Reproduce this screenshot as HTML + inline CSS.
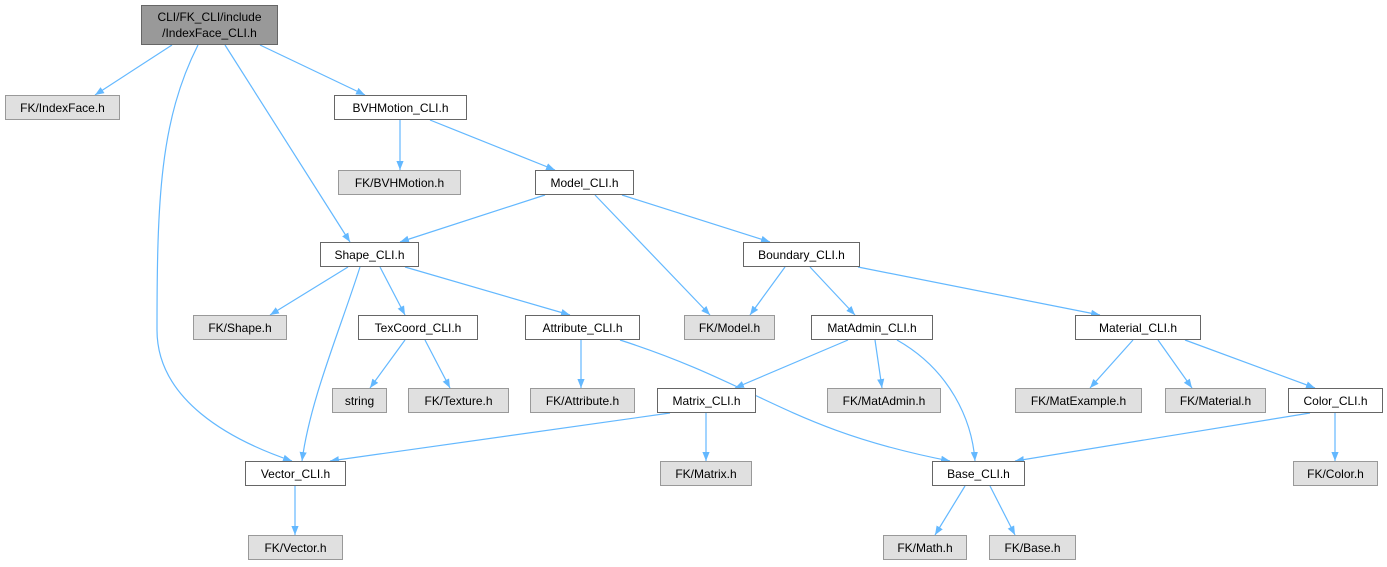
<!DOCTYPE html>
<html><head><meta charset="utf-8"><style>
html,body{margin:0;padding:0;background:#fff;width:1387px;height:567px;overflow:hidden}
svg{display:block}
text{font-family:"Liberation Sans",Arial,sans-serif;font-size:12px;fill:#000}
</style></head><body>
<svg width="1387" height="567" viewBox="0 0 1387 567" xmlns="http://www.w3.org/2000/svg">
<defs><marker id="a" viewBox="0 0 10 10" refX="10" refY="5" markerWidth="9" markerHeight="9" orient="auto" markerUnits="userSpaceOnUse"><path d="M0,1 L10,5 L0,9 z" fill="#63b8ff"/></marker></defs>
<g fill="none" stroke="#63b8ff" stroke-width="1.2" marker-end="url(#a)">
<path d="M172,45 L95,95"/>
<path d="M198,45 C160,120 157,200 157,330 C157,400 230,440 292,461"/>
<path d="M225,45 L350,242"/>
<path d="M260,45 L365,95"/>
<path d="M400,120 L400,170"/>
<path d="M430,120 L555,170"/>
<path d="M545,195 L400,242"/>
<path d="M595,195 L710,315"/>
<path d="M622,195 L770,242"/>
<path d="M348,267 L270,315"/>
<path d="M380,267 L405,315"/>
<path d="M405,267 L570,315"/>
<path d="M360,267 C340,330 310,400 302,461"/>
<path d="M785,267 L750,315"/>
<path d="M810,267 L855,315"/>
<path d="M858,267 L1100,315"/>
<path d="M405,340 L370,388"/>
<path d="M425,340 L450,388"/>
<path d="M581,340 L581,388"/>
<path d="M620,340 C760,385 790,430 950,461"/>
<path d="M848,340 L735,388"/>
<path d="M875,340 L882,388"/>
<path d="M897,340 C950,370 972,420 975,461"/>
<path d="M1133,340 L1090,388"/>
<path d="M1158,340 L1192,388"/>
<path d="M1185,340 L1315,388"/>
<path d="M670,413 L330,461"/>
<path d="M706,413 L706,461"/>
<path d="M1310,413 L1015,461"/>
<path d="M1335,413 L1335,461"/>
<path d="M295,486 L295,535"/>
<path d="M965,486 L935,535"/>
<path d="M990,486 L1015,535"/>
</g>
<g stroke-width="1">
<rect x="141.5" y="5.5" width="136" height="39" fill="#999" stroke="#666"/>
<text x="209.5" y="21" text-anchor="middle">CLI/FK_CLI/include</text>
<text x="209.5" y="37" text-anchor="middle">/IndexFace_CLI.h</text>
</g>
<g stroke="#666" stroke-width="1">
<rect x="5.5" y="95.5" width="114" height="24" fill="#e0e0e0" stroke="#999"/>
<rect x="334.5" y="95.5" width="132" height="24" fill="#fff"/>
<rect x="338.5" y="170.5" width="122" height="24" fill="#e0e0e0" stroke="#999"/>
<rect x="535.5" y="170.5" width="98" height="24" fill="#fff"/>
<rect x="320.5" y="242.5" width="98" height="24" fill="#fff"/>
<rect x="743.5" y="242.5" width="116" height="24" fill="#fff"/>
<rect x="193.5" y="315.5" width="93" height="24" fill="#e0e0e0" stroke="#999"/>
<rect x="358.5" y="315.5" width="119" height="24" fill="#fff"/>
<rect x="525.5" y="315.5" width="114" height="24" fill="#fff"/>
<rect x="684.5" y="315.5" width="90" height="24" fill="#e0e0e0" stroke="#999"/>
<rect x="811.5" y="315.5" width="121" height="24" fill="#fff"/>
<rect x="1075.5" y="315.5" width="125" height="24" fill="#fff"/>
<rect x="332.5" y="388.5" width="54" height="24" fill="#e0e0e0" stroke="#999"/>
<rect x="408.5" y="388.5" width="100" height="24" fill="#e0e0e0" stroke="#999"/>
<rect x="530.5" y="388.5" width="104" height="24" fill="#e0e0e0" stroke="#999"/>
<rect x="657.5" y="388.5" width="98" height="24" fill="#fff"/>
<rect x="827.5" y="388.5" width="113" height="24" fill="#e0e0e0" stroke="#999"/>
<rect x="1015.5" y="388.5" width="126" height="24" fill="#e0e0e0" stroke="#999"/>
<rect x="1165.5" y="388.5" width="100" height="24" fill="#e0e0e0" stroke="#999"/>
<rect x="1288.5" y="388.5" width="94" height="24" fill="#fff"/>
<rect x="245.5" y="461.5" width="100" height="24" fill="#fff"/>
<rect x="660.5" y="461.5" width="91" height="24" fill="#e0e0e0" stroke="#999"/>
<rect x="932.5" y="461.5" width="92" height="24" fill="#fff"/>
<rect x="1293.5" y="461.5" width="84" height="24" fill="#e0e0e0" stroke="#999"/>
<rect x="248.5" y="535.5" width="94" height="24" fill="#e0e0e0" stroke="#999"/>
<rect x="883.5" y="535.5" width="83" height="24" fill="#e0e0e0" stroke="#999"/>
<rect x="989.5" y="535.5" width="86" height="24" fill="#e0e0e0" stroke="#999"/>
</g>
<g text-anchor="middle">
<text x="62.5" y="112">FK/IndexFace.h</text>
<text x="400.5" y="112">BVHMotion_CLI.h</text>
<text x="399.5" y="187">FK/BVHMotion.h</text>
<text x="584.5" y="187">Model_CLI.h</text>
<text x="369.5" y="259">Shape_CLI.h</text>
<text x="801.5" y="259">Boundary_CLI.h</text>
<text x="240" y="332">FK/Shape.h</text>
<text x="418" y="332">TexCoord_CLI.h</text>
<text x="582.5" y="332">Attribute_CLI.h</text>
<text x="729.5" y="332">FK/Model.h</text>
<text x="872" y="332">MatAdmin_CLI.h</text>
<text x="1138" y="332">Material_CLI.h</text>
<text x="359.5" y="405">string</text>
<text x="458.5" y="405">FK/Texture.h</text>
<text x="582.5" y="405">FK/Attribute.h</text>
<text x="706.5" y="405">Matrix_CLI.h</text>
<text x="884" y="405">FK/MatAdmin.h</text>
<text x="1078.5" y="405">FK/MatExample.h</text>
<text x="1215.5" y="405">FK/Material.h</text>
<text x="1335.5" y="405">Color_CLI.h</text>
<text x="295.5" y="478">Vector_CLI.h</text>
<text x="706" y="478">FK/Matrix.h</text>
<text x="978.5" y="478">Base_CLI.h</text>
<text x="1335.5" y="478">FK/Color.h</text>
<text x="295.5" y="552">FK/Vector.h</text>
<text x="925" y="552">FK/Math.h</text>
<text x="1032.5" y="552">FK/Base.h</text>
</g>
</svg>
</body></html>
